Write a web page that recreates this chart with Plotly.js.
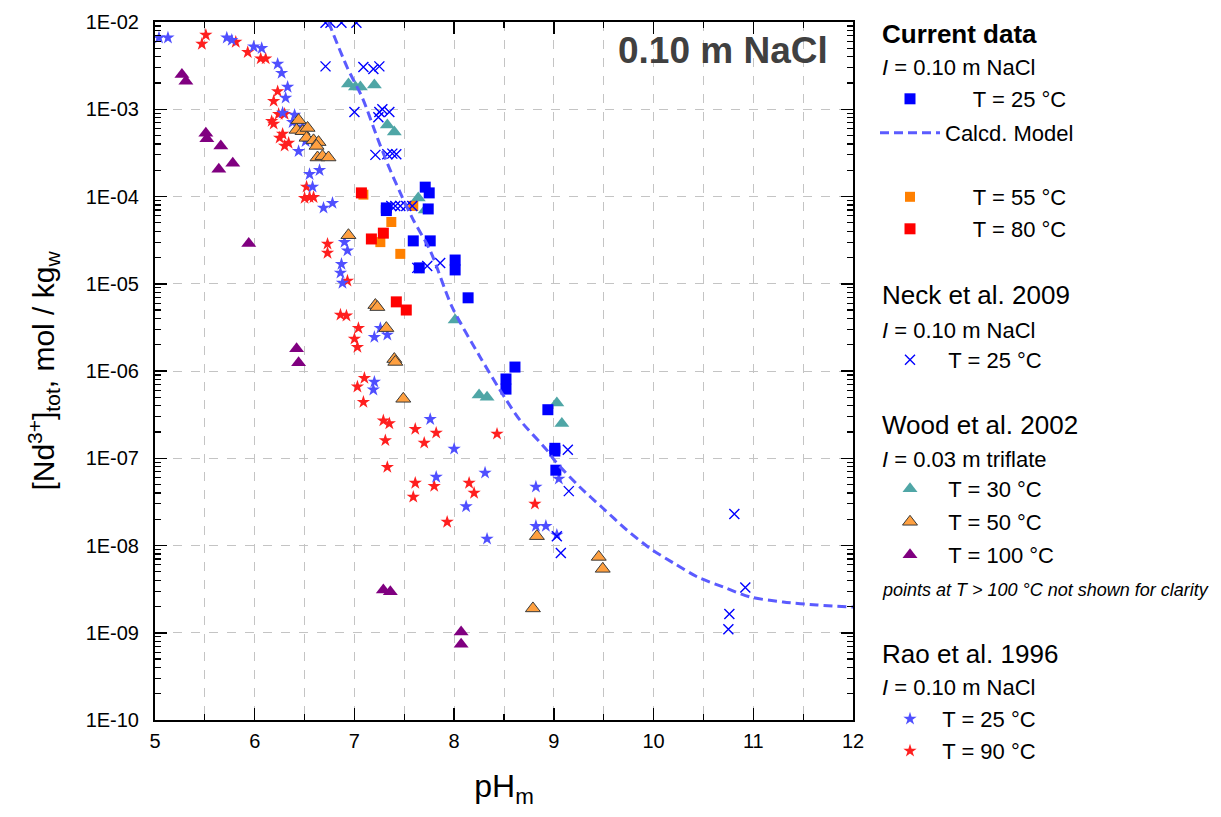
<!DOCTYPE html>
<html>
<head>
<meta charset="utf-8">
<script src="https://cdn.plot.ly/plotly-3.0.1.min.js"></script>
<style>
  html, body { margin: 0; padding: 0; background: #ffffff; }
  #chart { width: 1221px; height: 817px; }
</style>
</head>
<body>
<div id="chart"></div>
<script>
// ---------------- data ----------------
// Current data, I = 0.10 m NaCl
const cur25PH = [7.32, 7.32, 7.59, 7.76, 7.71, 7.75, 7.74, 7.65, 8.01, 8.01, 8.14, 8.61, 8.52, 8.52, 8.94, 9.01, 9.01, 9.02];
const cur25Nd = [7.4e-5, 6.9e-5, 3.1e-5, 3.1e-5, 1.28e-4, 1.1e-4, 7.2e-5, 1.52e-5, 1.87e-5, 1.44e-5, 6.9e-6, 1.11e-6, 8.1e-7, 6.2e-7, 3.6e-7, 1.3e-7, 1.21e-7, 7.3e-8];
const cur55PH = [7.59, 7.37, 7.26, 7.46, 7.09];
const cur55Nd = [7.8e-5, 5.1e-5, 3.0e-5, 2.2e-5, 1.05e-4];
const cur80PH = [7.07, 7.29, 7.17, 7.42, 7.52];
const cur80Nd = [1.1e-4, 3.8e-5, 3.26e-5, 6.2e-6, 5.0e-6];
// Calcd. model
const modelPH = [6.74, 6.93, 7.08, 7.23, 7.33, 7.46, 7.59, 7.76, 7.98, 8.26, 8.51, 8.66, 8.93, 9.02, 9.26, 9.49, 9.73, 9.96, 10.20, 10.44, 10.70, 10.97, 11.30, 11.64, 12.0];
const modelNd = [1.0e-2, 2.97e-3, 1.35e-3, 4.7e-4, 2.4e-4, 1.1e-4, 5.4e-5, 2.4e-5, 5.4e-6, 1.45e-6, 4.9e-7, 2.74e-7, 1.24e-7, 9.06e-8, 4.68e-8, 2.69e-8, 1.51e-8, 9.35e-9, 6.3e-9, 4.36e-9, 3.34e-9, 2.57e-9, 2.25e-9, 2.08e-9, 1.97e-9];
// Neck et al. 2009, 25 °C
const neckPH = [6.71, 6.76, 6.87, 7.02, 6.71, 7.09, 7.19, 7.25, 7.00, 7.25, 7.28, 7.35, 7.24, 7.21, 7.33, 7.38, 7.42, 7.37, 7.41, 7.46, 7.52, 7.58, 7.63, 7.73, 7.86, 9.14, 9.15, 9.03, 9.07, 10.81, 10.92, 10.76, 10.75];
const neckNd = [9.8e-3, 9.8e-3, 9.8e-3, 9.8e-3, 3.1e-3, 3.05e-3, 2.9e-3, 3.1e-3, 9.3e-4, 9.3e-4, 1.0e-3, 9.3e-4, 8.1e-4, 3.0e-4, 3.05e-4, 3.1e-4, 3.05e-4, 7.8e-5, 7.8e-5, 7.8e-5, 7.8e-5, 7.8e-5, 1.52e-5, 1.6e-5, 1.73e-5, 1.25e-7, 4.2e-8, 1.28e-8, 8.2e-9, 2.3e-8, 3.3e-9, 1.64e-9, 1.1e-9];
// Wood et al. 2002
const w30PH = [6.94, 7.01, 7.06, 7.20, 7.33, 7.40, 7.64, 7.71, 8.01, 8.25, 8.33, 9.03, 9.08];
const w30Nd = [1.95e-3, 1.8e-3, 1.8e-3, 1.9e-3, 6.6e-4, 5.5e-4, 9.6e-5, 7.0e-5, 3.85e-6, 5.3e-7, 5.0e-7, 4.3e-7, 2.5e-7];
const w50PH = [6.44, 6.42, 6.48, 6.53, 6.52, 6.59, 6.64, 6.62, 6.63, 6.68, 6.74, 6.94, 7.21, 7.23, 7.32, 7.40, 7.41, 7.49, 8.83, 9.45, 9.49, 8.79];
const w50Nd = [7.5e-4, 5.8e-4, 5.6e-4, 6.1e-4, 4.7e-4, 4.4e-4, 4.2e-4, 3.8e-4, 2.8e-4, 2.9e-4, 2.8e-4, 3.6e-5, 5.7e-6, 5.4e-6, 3.1e-6, 1.37e-6, 1.27e-6, 4.8e-7, 1.28e-8, 7.4e-9, 5.4e-9, 1.9e-9];
const w100PH = [5.27, 5.31, 5.51, 5.52, 5.66, 5.78, 5.64, 5.94, 6.42, 6.44, 7.29, 7.36, 8.07, 8.07];
const w100Nd = [2.5e-3, 2.1e-3, 5.3e-4, 4.6e-4, 3.8e-4, 2.4e-4, 2.05e-4, 2.9e-5, 1.8e-6, 1.24e-6, 3.1e-9, 2.95e-9, 1.02e-9, 7.4e-10];
// Rao et al. 1996
const r25PH = [5.04, 5.13, 5.72, 5.77, 5.99, 6.07, 6.23, 6.27, 6.33, 6.31, 6.28, 6.40, 6.38, 6.48, 6.51, 6.44, 6.65, 6.55, 6.58, 6.78, 6.69, 6.90, 6.93, 6.87, 6.86, 6.88, 7.26, 7.20, 7.33, 7.20, 7.19, 7.76, 8.00, 7.82, 8.12, 8.31, 8.33, 8.82, 8.82, 8.92, 9.05, 9.03];
const r25Nd = [6.6e-3, 6.6e-3, 6.6e-3, 6.2e-3, 5.2e-3, 5.0e-3, 3.3e-3, 2.6e-3, 1.8e-3, 1.35e-3, 9.1e-4, 8.6e-4, 7.1e-4, 6.3e-4, 4.3e-4, 3.3e-4, 2.0e-4, 1.8e-4, 1.29e-4, 8.4e-5, 7.4e-5, 3.0e-5, 2.4e-5, 1.68e-5, 1.33e-5, 1.02e-5, 3.1e-6, 2.45e-6, 2.6e-6, 7.5e-7, 6.1e-7, 2.8e-7, 1.28e-7, 6.1e-8, 2.8e-8, 6.8e-8, 1.19e-8, 4.7e-8, 1.67e-8, 1.67e-8, 5.8e-8, 1.32e-8];
const r90PH = [5.51, 5.47, 5.81, 5.93, 6.06, 6.11, 6.23, 6.19, 6.24, 6.30, 6.17, 6.19, 6.28, 6.25, 6.34, 6.30, 6.52, 6.50, 6.55, 6.59, 6.73, 6.73, 6.93, 6.86, 6.92, 7.04, 7.00, 7.03, 7.10, 7.03, 7.09, 7.29, 7.35, 7.31, 7.33, 7.61, 7.82, 7.70, 7.61, 7.80, 7.59, 7.93, 8.15, 8.20, 8.43, 8.81];
const r90Nd = [7.1e-3, 5.6e-3, 5.9e-3, 4.5e-3, 3.8e-3, 3.8e-3, 1.6e-3, 1.24e-3, 8.8e-4, 8.8e-4, 7.3e-4, 6.8e-4, 5.2e-4, 4.7e-4, 4.1e-4, 3.8e-4, 1.29e-4, 9.6e-5, 9.8e-5, 9.8e-5, 2.86e-5, 2.25e-5, 1.08e-5, 4.4e-6, 4.3e-6, 3.1e-6, 2.33e-6, 1.88e-6, 8.3e-7, 6.6e-7, 4.4e-7, 2.7e-7, 2.5e-7, 1.6e-7, 7.9e-8, 2.16e-7, 1.95e-7, 1.5e-7, 5.2e-8, 4.8e-8, 3.6e-8, 1.86e-8, 5.2e-8, 4.0e-8, 1.9e-7, 3.0e-8];

// tick labels
const yTickVals = [1e-10, 1e-9, 1e-8, 1e-7, 1e-6, 1e-5, 1e-4, 1e-3, 1e-2];
const yTickText = ["1E-10", "1E-09", "1E-08", "1E-07", "1E-06", "1E-05", "1E-04", "1E-03", "1E-02"];

// ---------------- layout helpers ----------------
const FONT = "Liberation Sans, Arial, Helvetica, sans-serif";
const PL = 155, PT = 22, PW = 698, PH = 698;
const px2x = px => (px - PL) / PW;
const py2y = py => (PT + PH - py) / PH;

const yMinor = [];
for (let k = -10; k < -2; k++) for (let m = 2; m <= 9; m++) yMinor.push(m * Math.pow(10, k));

function leg(pxLeft, pyMid, itemwidth) {
  return {
    x: px2x(pxLeft), y: py2y(pyMid), xanchor: "left", yanchor: "middle",
    bgcolor: "rgba(0,0,0,0)", borderwidth: 0, itemwidth: itemwidth || 30,
    font: { family: FONT, size: 22, color: "#000" }, tracegroupgap: 0
  };
}
const NB = n => "\u00a0".repeat(n);

const traces = [
  { x: r90PH, y: r90Nd, mode: "markers", name: NB(2) + "T = 90 °C", legend: "legend10",
    marker: { symbol: "star", size: 10, color: "#ff1f1f" } },
  { x: r25PH, y: r25Nd, mode: "markers", name: NB(2) + "T = 25 °C", legend: "legend9",
    marker: { symbol: "star", size: 10, color: "#4f4fff" } },
  { x: w100PH, y: w100Nd, mode: "markers", name: NB(3) + "T = 100 °C", legend: "legend8",
    marker: { symbol: "triangle-up", size: 13, color: "#800080" } },
  { x: w50PH, y: w50Nd, mode: "markers", name: NB(3) + "T = 50 °C", legend: "legend7",
    marker: { symbol: "triangle-up", size: 13, color: "#ffa040", line: { color: "#3a3a3a", width: 1 } } },
  { x: w30PH, y: w30Nd, mode: "markers", name: NB(3) + "T = 30 °C", legend: "legend6",
    marker: { symbol: "triangle-up", size: 13, color: "#4fa6a6" } },
  { x: cur55PH, y: cur55Nd, mode: "markers", name: NB(7) + "T = 55 °C", legend: "legend3",
    marker: { symbol: "square", size: 10, color: "#ff8000" } },
  { x: cur80PH, y: cur80Nd, mode: "markers", name: NB(7) + "T = 80 °C", legend: "legend4",
    marker: { symbol: "square", size: 11, color: "#ff0000" } },
  { x: cur25PH, y: cur25Nd, mode: "markers", name: NB(7) + "T = 25 °C", legend: "legend",
    marker: { symbol: "square", size: 11, color: "#0000ff" } },
  { x: neckPH, y: neckNd, mode: "markers", name: NB(3) + "T = 25 °C", legend: "legend5",
    marker: { symbol: "x-thin-open", size: 10, color: "#0000ff", line: { color: "#0000ff", width: 1.4 } } },
  { x: modelPH, y: modelNd, mode: "lines", name: "Calcd. Model", legend: "legend2",
    line: { color: "#5b5bff", width: 3, dash: "9px,5px", shape: "spline", smoothing: 0.8 } }
];

const ann = (px, py, text, size, extra) => Object.assign({
  xref: "paper", yref: "paper", x: px2x(px), y: py2y(py), xanchor: "left", yanchor: "middle",
  text: text, showarrow: false, font: { family: FONT, size: size, color: "#000" }
}, extra || {});

const layout = {
  width: 1221, height: 817,
  margin: { l: PL, r: 1221 - PL - PW, t: PT, b: 817 - PT - PH, autoexpand: false },
  paper_bgcolor: "#ffffff", plot_bgcolor: "#ffffff",
  font: { family: FONT, size: 20, color: "#000" },
  showlegend: true,
  xaxis: {
    range: [5, 12], tick0: 5, dtick: 1, ticks: "inside", ticklen: 12, tickwidth: 1.5, tickcolor: "#000",
    showline: true, linecolor: "#000", linewidth: 2, mirror: "allticks",
    showgrid: true, gridcolor: "#c4c4c4", griddash: "dash", gridwidth: 1, zeroline: false,
    minor: { dtick: 0.5, ticks: "inside", ticklen: 6, tickwidth: 1.2, tickcolor: "#000",
             showgrid: true, gridcolor: "#c4c4c4", griddash: "dash", gridwidth: 1 },
    tickfont: { family: FONT, size: 20 }, ticklabelstandoff: 2,
    title: { text: "pH<sub>m</sub>", font: { family: FONT, size: 32 }, standoff: 24 }
  },
  yaxis: {
    type: "log", range: [-10, -2], tickmode: "array", tickvals: yTickVals, ticktext: yTickText,
    ticks: "inside", ticklen: 12, tickwidth: 1.5, tickcolor: "#000",
    showline: true, linecolor: "#000", linewidth: 2, mirror: "allticks",
    showgrid: true, gridcolor: "#c4c4c4", griddash: "dash", gridwidth: 1, zeroline: false,
    minor: { tickmode: "array", tickvals: yMinor, ticks: "inside", ticklen: 6, tickwidth: 1.2,
             tickcolor: "#000", showgrid: false },
    tickfont: { family: FONT, size: 20 }, ticklabelstandoff: 10,
    title: { text: "[Nd<sup>3+</sup>]<sub>tot</sub>, mol / kg<sub>w</sub>", font: { family: FONT, size: 30 }, standoff: 22 }
  },
  legend: leg(890, 99),
  legend2: leg(875, 133, 60),
  legend3: leg(890, 197),
  legend4: leg(890, 229),
  legend5: leg(890, 360),
  legend6: leg(890, 489),
  legend7: leg(890, 522),
  legend8: leg(890, 555),
  legend9: leg(890, 719),
  legend10: leg(890, 751),
  annotations: [
    ann(830, 50, "<b>0.10 m NaCl</b>", 37, { xanchor: "right", font: { family: FONT, size: 37, color: "#404040" } }),
    ann(880, 34, "<b>Current data</b>", 26),
    ann(880, 68, "<i>I</i> = 0.10 m NaCl", 22),
    ann(880, 295, "Neck et al. 2009", 26),
    ann(880, 330, "<i>I</i> = 0.10 m NaCl", 22),
    ann(880, 425, "Wood et al. 2002", 26),
    ann(880, 459, "<i>I</i> = 0.03 m triflate", 22),
    ann(880, 590, "<i>points at T &gt; 100 °C not shown for clarity</i>", 18),
    ann(880, 654, "Rao et al. 1996", 26),
    ann(880, 687, "<i>I</i> = 0.10 m NaCl", 22)
  ]
};

Plotly.newPlot("chart", traces, layout, { displayModeBar: false, staticPlot: true });
</script>
</body>
</html>
